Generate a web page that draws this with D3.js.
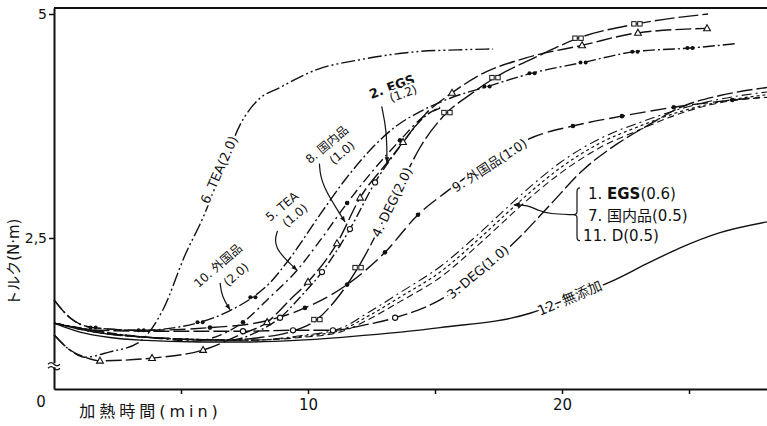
<!DOCTYPE html>
<html><head><meta charset="utf-8">
<script src="https://cdn.jsdelivr.net/npm/d3@7"></script>
<style>
html,body{margin:0;padding:0;background:#fff;}
svg{display:block;}
text{font-family:"DejaVu Sans","Noto Sans CJK JP",sans-serif;fill:#111;}
</style></head><body>
<svg id="chart" width="767" height="426"></svg>
<script>
// ---------- data (time in min, torque in N·m) ----------
const xTickValues=[5,10,15,20,25];
const xTickLabels=["","10","","20",""];
const yTickValues=[2.5,5];
const yTickLabels=["2,5","5"];

const s1_t=[0,3.78,7.72,9.69,11.26,12.44,13.62,15.2,16.77,18.07,18.74,19.92,21.5,23.07,24.65,26.22,28.07];
const s1_v=[1.55,1.39,1.36,1.41,1.49,1.68,1.89,2.18,2.56,2.90,3.07,3.34,3.61,3.79,3.94,4.05,4.13];
const s2_t=[0,0.63,1.22,1.81,3.86,5.87,7.32,8.39,9.29,10.0,11.14,12.05,13.11,13.74,14.61,15.67,16.77,18.58,20.79,22.99,25.71];
const s2_v=[1.42,1.25,1.17,1.13,1.16,1.25,1.42,1.56,1.81,2.01,2.44,2.95,3.34,3.57,3.88,4.12,4.32,4.51,4.65,4.79,4.84];
const s3_t=[0,1.81,3.78,7.44,9.41,10.98,12.24,13.43,15.2,16.77,18.23,19.53,20.83,22.17,23.46,24.76,26.22,28.07];
const s3_v=[1.55,1.47,1.46,1.46,1.47,1.47,1.53,1.61,1.81,2.12,2.48,2.87,3.26,3.55,3.77,3.97,4.09,4.18];
const s4_t=[0,1.81,3.78,6.57,8.11,9.29,10.35,11.26,11.97,12.83,13.62,14.41,15.47,16.38,17.36,19.13,20.63,22.95,25.75];
const s4_v=[1.55,1.44,1.39,1.36,1.39,1.45,1.59,1.87,2.17,2.62,3.07,3.51,3.90,4.10,4.29,4.54,4.73,4.89,5.00];
const s5_t=[0,1.81,3.78,5.51,6.57,7.44,8.5,9.57,10.47,11.54,12.64,13.62,14.53,15.2];
const s5_v=[1.55,1.44,1.39,1.35,1.42,1.56,1.84,2.14,2.47,2.89,3.28,3.59,3.85,3.95];
const s6_t=[0,0.63,1.22,2.2,3.31,4.29,5.16,5.87,6.61,7.32,8.03,8.9,10.35,12.05,14.29,15.87,17.28];
const s6_v=[1.42,1.25,1.17,1.23,1.33,1.70,2.31,2.73,3.26,3.76,4.04,4.18,4.38,4.49,4.58,4.60,4.61];
const s7_t=[0,3.78,7.72,9.69,11.26,12.44,13.62,15.2,16.77,18.07,18.74,19.92,21.5,23.07,24.65,26.22,28.07];
const s7_v=[1.55,1.39,1.36,1.39,1.45,1.60,1.79,2.06,2.44,2.78,2.95,3.22,3.51,3.71,3.89,4.01,4.07];
const s8_t=[0,3.78,6.93,8.11,8.9,9.69,10.55,11.65,12.64,13.62,14.61,15.2];
const s8_v=[1.55,1.39,1.36,1.47,1.61,1.84,2.12,2.60,3.12,3.52,3.86,3.96];
const s9_t=[0,0.63,1.54,3.43,6.14,8.11,9.88,11.54,13.03,14.33,15.47,17.2,18.9,20.43,22.36,24.4,26.7,27.8];
const s9_v=[1.81,1.61,1.50,1.47,1.50,1.56,1.72,1.98,2.34,2.76,3.02,3.37,3.63,3.75,3.86,3.96,4.04,4.07];
const s10_t=[0,0.63,1.54,3.43,5.75,6.93,7.83,8.5,9.17,10.47,11.46,12.44,13.43,14.41,15.59,17.05,18.82,20.83,22.87,25.04,26.89];
const s10_v=[1.81,1.61,1.50,1.47,1.56,1.69,1.84,2.00,2.23,2.76,3.15,3.48,3.74,3.91,4.06,4.19,4.34,4.46,4.58,4.62,4.67];
const s11_t=[0,3.78,7.72,9.69,11.26,12.44,13.62,15.2,16.77,18.07,18.74,19.92,21.5,23.07,24.65,26.22,28.07];
const s11_v=[1.55,1.39,1.36,1.40,1.47,1.64,1.84,2.12,2.50,2.84,3.01,3.28,3.56,3.75,3.91,4.02,4.10];
const s12_t=[0,1.02,2.2,3.39,5.75,7.72,9.69,11.65,15.2,18.74,20.31,21.9,23.46,24.65,26.22,28.07];
const s12_v=[1.55,1.45,1.39,1.36,1.34,1.34,1.36,1.40,1.50,1.66,1.83,2.01,2.23,2.39,2.56,2.68];

// marker indices per series
const m2=[3,4,5,7,9,10,11,13,15,18,19,20];
const m3=[3,4,5,7];
const m4=[6,8,12,14,16,17];
const m5=[5,9,11];
const m8=[4,6,7,8];
const m9=[4,6,7,8,9,13,14,15,16];
const m10=[2,3,4,6,15,16,17,18,19];

// ---------- chart ----------
const svg=d3.select("#chart");
const x=d3.scaleLinear().domain([0,28.07]).range([54,767]);
const y=d3.scaleLinear().domain([0.815,5.067]).range([389,8]);

const zip=(t,v)=>t.map((d,i)=>[d,v[i]]);
const series=[
 {id:12,d:zip(s12_t,s12_v),dash:null,w:1.4},
 {id:11,d:zip(s11_t,s11_v),dash:"3,3",w:1.2},
 {id:7,d:zip(s7_t,s7_v),dash:"7,4",w:1.1},
 {id:1,d:zip(s1_t,s1_v),dash:"10,4,2,4",w:1.1},
 {id:3,d:zip(s3_t,s3_v),dash:"16,4",m:m3,mk:"o",w:1.4},
 {id:9,d:zip(s9_t,s9_v),dash:"16,5",m:m9,mk:"dot",w:1.4},
 {id:8,d:zip(s8_t,s8_v),dash:"10,3,2,3",m:m8,mk:"o",w:1.4},
 {id:5,d:zip(s5_t,s5_v),dash:"10,4,2,4",m:m5,mk:"dot",w:1.4},
 {id:4,d:zip(s4_t,s4_v),dash:"20,4",m:m4,mk:"oo",w:1.4},
 {id:2,d:zip(s2_t,s2_v),dash:"16,4",m:m2,mk:"tri",w:1.4},
 {id:10,d:zip(s10_t,s10_v),dash:"12,3,2,3",m:m10,mk:"dd",w:1.4},
 {id:6,d:zip(s6_t,s6_v),dash:"14,3,2,3,2,3",w:1.4}
];

const line=d3.line().x(d=>x(d[0])).y(d=>y(d[1])).curve(d3.curveMonotoneX);
const g=svg.append("g");
g.selectAll("path.s").data(series).join("path").attr("class","s")
 .attr("d",s=>line(s.d)).attr("fill","none").attr("stroke","#111")
 .attr("stroke-width",s=>s.w).attr("stroke-dasharray",s=>s.dash);

// markers
series.forEach(s=>{
  if(!s.m) return;
  s.m.forEach(i=>{
    const p=s.d[i]; const cx=x(p[0]), cy=y(p[1]);
    if(s.mk==="dot") g.append("circle").attr("cx",cx).attr("cy",cy).attr("r",2.3).attr("fill","#111");
    if(s.mk==="dd"){[-2.6,2.6].forEach(o=>g.append("circle").attr("cx",cx+o).attr("cy",cy).attr("r",2).attr("fill","#111"));}
    if(s.mk==="o") g.append("circle").attr("cx",cx).attr("cy",cy).attr("r",2.6).attr("fill","#fff").attr("stroke","#111").attr("stroke-width",1.1);
    if(s.mk==="oo"){[-3,3].forEach(o=>g.append("rect").attr("x",cx+o-2.2).attr("y",cy-2.2).attr("width",4.4).attr("height",4.4).attr("fill","#fff").attr("stroke","#111").attr("stroke-width",1));}
    if(s.mk==="tri") g.append("path").attr("d",`M${cx},${cy-3.6}L${cx+3.4},${cy+2.4}L${cx-3.4},${cy+2.4}Z`).attr("fill","#fff").attr("stroke","#111").attr("stroke-width",1.1);
  });
});

// axes
const ax=svg.append("g").attr("transform",`translate(0,${y(0.815)})`)
 .call(d3.axisBottom(x).tickValues(xTickValues).tickFormat((d,i)=>xTickLabels[i]).tickSize(5).tickSizeOuter(0).tickPadding(5));
ax.select(".domain").attr("stroke","#111").attr("stroke-width",2);
ax.selectAll(".tick line").attr("stroke","#111").attr("stroke-width",1.5);
ax.selectAll(".tick text").attr("font-size",15).attr("fill","#111");
const ay=svg.append("g").attr("transform",`translate(${x(0)},0)`)
 .call(d3.axisLeft(y).tickValues(yTickValues).tickFormat((d,i)=>yTickLabels[i]).tickSize(5).tickSizeOuter(0).tickPadding(2));
ay.select(".domain").attr("stroke","#111").attr("stroke-width",2);
ay.selectAll(".tick line").attr("stroke","#111").attr("stroke-width",1.5);
ay.selectAll(".tick text").attr("font-size",14).attr("fill","#111");
svg.append("line").attr("x1",x(0)).attr("x2",767).attr("y1",y(5.067)).attr("y2",y(5.067)).attr("stroke","#111").attr("stroke-width",2);
// origin label
svg.append("text").attr("x",x(0)-13).attr("y",y(0.815)+18).attr("text-anchor","middle").attr("font-size",15).text("0");
// axis break
const by=y(1.08);
svg.append("rect").attr("x",x(0)-2).attr("y",by-2).attr("width",4).attr("height",4).attr("fill","#fff");
[-2,2].forEach(o=>svg.append("path").attr("d",`M${x(0)-6},${by+o+1} q3,-3 6,0 t6,0`).attr("fill","none").attr("stroke","#111").attr("stroke-width",1.2));

// axis titles
svg.append("text").attr("transform",`translate(14,${y(2.23)}) rotate(-90)`).attr("text-anchor","middle").attr("dominant-baseline","central").attr("font-size",15).text("トルク(N·m)");
svg.append("text").attr("x",x(3.8)).attr("y",417).attr("text-anchor","middle").attr("font-size",16).attr("letter-spacing",4).text("加熱時間(min)");

// inline labels (with white halo cutting the curve)
function lab(t,v,rot,txt,fs){
  const el=svg.append("text").attr("transform",`translate(${x(t)},${y(v)}) rotate(${rot})`)
   .attr("text-anchor","middle").attr("dominant-baseline","central").attr("font-size",fs||13)
   .attr("stroke","#fff").attr("stroke-width",5).attr("paint-order","stroke").attr("stroke-linejoin","round");
  el.text(txt);
  return el;
}
lab(6.5,3.26,-66,"6. TEA(2.0)",13);
lab(13.31,2.90,-64,"4. DEG(2.0)",13);
lab(17.15,3.31,-33,"9. 外国品(1.0)",13);
lab(16.69,2.12,-40,"3. DEG(1.0)",13);
lab(20.3,1.83,-23,"12. 無添加",14);

// annotations with leaders
lab(6.46,2.19,-41,"10. 外国品",12);
lab(7.17,2.09,-41,"(2.0)",12);
lab(8.98,2.85,-40,"5. TEA",12);
lab(9.49,2.75,-40,"(1.0)",12);
lab(10.75,3.54,-40,"8. 国内品",12);
lab(11.34,3.45,-40,"(1.0)",12);
lab(13.31,4.19,-20,"2. EGS",13).attr("font-weight","bold");
lab(13.75,4.11,-20,"(1.2)",12);

const lead=d3.line().x(d=>x(d[0])).y(d=>y(d[1])).curve(d3.curveBasis);
const leaders=[
 [[6.54,2.0],[6.6,1.85],[6.93,1.70]],
 [[8.8,2.58],[8.6,2.4],[9.57,2.14]],
 [[10.45,3.33],[10.5,3.1],[11.46,2.68]],
 [[12.9,3.97],[13.1,3.7],[13.11,3.34]]
];
leaders.forEach(p=>{
  svg.append("path").attr("d",lead(p)).attr("fill","none").attr("stroke","#111").attr("stroke-width",1.2);
  const a=p[p.length-1], b=p[p.length-2];
  const ang=Math.atan2(y(a[1])-y(b[1]),x(a[0])-x(b[0]));
  const X=x(a[0]),Y=y(a[1]);
  svg.append("path").attr("d",`M${X},${Y}L${X-6*Math.cos(ang-0.4)},${Y-6*Math.sin(ang-0.4)}L${X-6*Math.cos(ang+0.4)},${Y-6*Math.sin(ang+0.4)}Z`).attr("fill","#111");
});

// bracket group labels
const grpLabels=[["1. ","EGS","(0.6)"],["7. 国内品(0.5)","",""],["11. D(0.5)","",""]];
const grpT=[21.02,21.02,20.83];
const grpV=[2.99,2.745,2.52];
grpLabels.forEach((r,i)=>{
  const t=svg.append("text").attr("x",x(grpT[i])).attr("y",y(grpV[i])).attr("dominant-baseline","central").attr("font-size",15);
  t.append("tspan").text(r[0]);
  if(r[1]) t.append("tspan").attr("font-weight","bold").text(r[1]);
  if(r[2]) t.append("tspan").text(r[2]);
});
const bx=x(20.59), bTop=y(3.06), bMid=y(2.76), bBot=y(2.47);
svg.append("path").attr("d",`M${bx+3},${bTop} q-3,0 -3,4 L${bx},${bMid-3} q0,3 -4,3 q4,0 4,3 L${bx},${bBot-4} q0,4 3,4`).attr("fill","none").attr("stroke","#111").attr("stroke-width",1.2);
const conn=[[20.43,2.76],[19.5,2.77],[19.13,2.80],[18.62,2.87],[18.1,2.87]];
svg.append("path").attr("d",lead(conn)).attr("fill","none").attr("stroke","#111").attr("stroke-width",1.2);
{const X=x(18.1),Y=y(2.87);svg.append("path").attr("d",`M${X},${Y}l6,-3l0,6Z`).attr("fill","#111");}
</script></body></html>
